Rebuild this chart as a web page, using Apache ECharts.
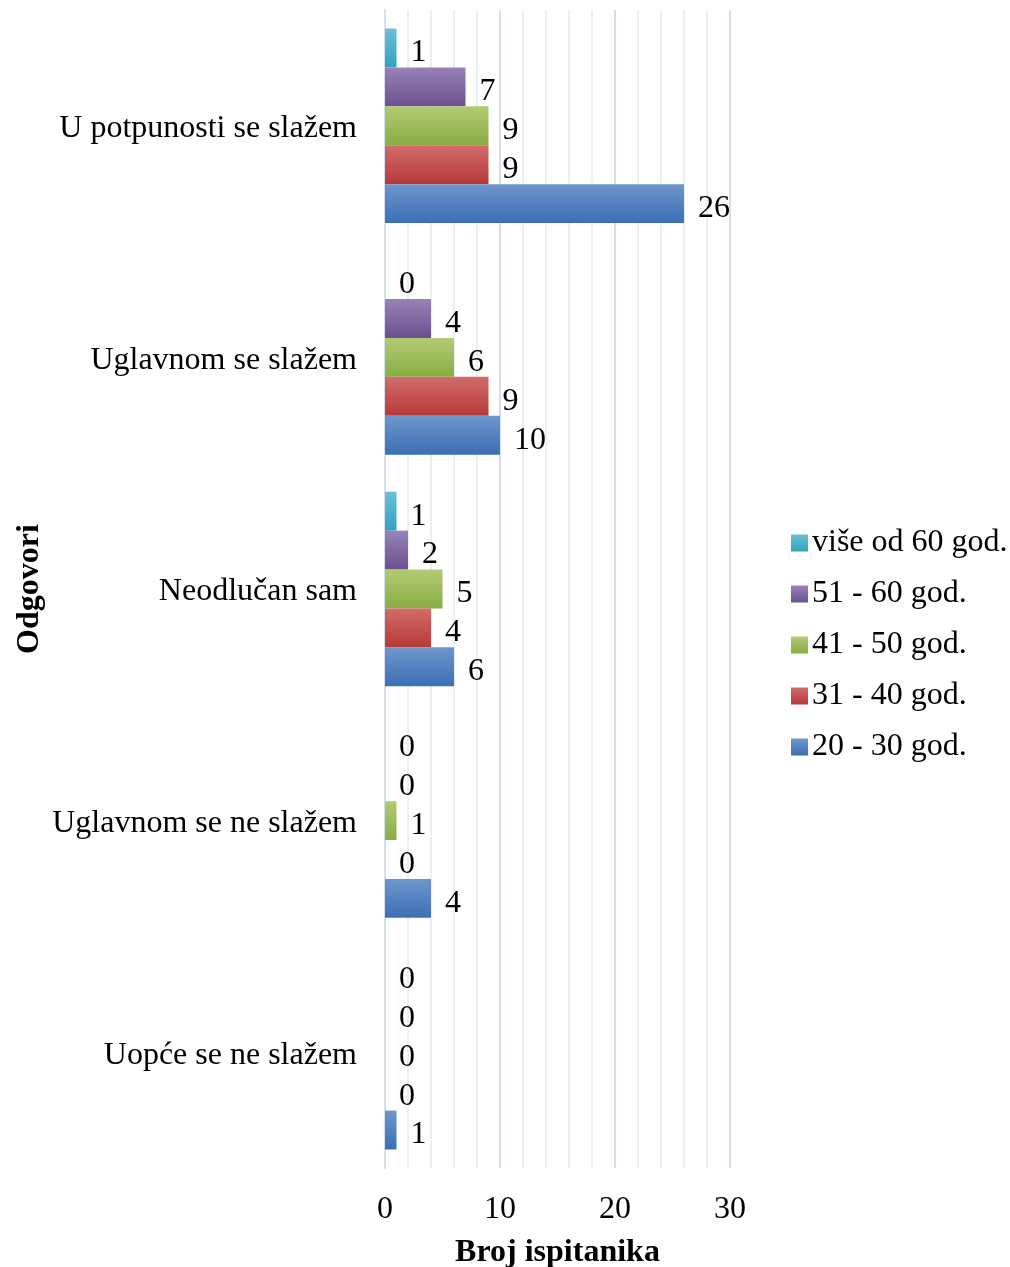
<!DOCTYPE html>
<html>
<head>
<meta charset="utf-8">
<script src="https://cdn.jsdelivr.net/npm/echarts@6/dist/echarts.min.js"></script>
<style>
html,body{margin:0;padding:0;background:#fff;}
#chart{width:1010px;height:1267px;}
</style>
</head>
<body>
<div id="chart"></div>
<script>
var categories = ['U potpunosti se slažem', 'Uglavnom se slažem', 'Neodlučan sam', 'Uglavnom se ne slažem', 'Uopće se ne slažem'];
var seriesNames = ['20 - 30 god.', '31 - 40 god.', '41 - 50 god.', '51 - 60 god.', 'više od 60 god.'];
var age20_30 = [26, 10, 6, 4, 1];
var age31_40 = [9, 9, 4, 0, 0];
var age41_50 = [9, 6, 5, 1, 0];
var age51_60 = [7, 4, 2, 0, 0];
var age60plus = [1, 0, 1, 0, 0];
var xTicks = [0, 10, 20, 30];

var values = [age20_30, age31_40, age41_50, age51_60, age60plus];
var gradients = [
  ['#6f96cc', '#3b6fb4'],
  ['#d26c6a', '#b53936'],
  ['#b3cb74', '#88ad43'],
  ['#9883b6', '#6c4f90'],
  ['#6cc0d6', '#32a0c0']
];
var FONT = '"Liberation Serif", "Times New Roman", serif';
var FS = 32;

function grad(c) {
  return new echarts.graphic.LinearGradient(0, 0, 0, 1, [
    {offset: 0, color: c[0]}, {offset: 1, color: c[1]}
  ]);
}

// Excel draws first series at bottom of each band: reverse order for ECharts
var order = [4, 3, 2, 1, 0];
var series = order.map(function (i) {
  return {
    name: seriesNames[i],
    type: 'bar',
    data: values[i],
    barGap: '0%',
    barCategoryGap: '16%',
    itemStyle: {color: grad(gradients[i])},
    label: {
      show: true,
      position: 'right',
      distance: 14,
      color: '#000',
      fontFamily: FONT,
      fontSize: FS,
      offset: [0, 5]
    },
    emphasis: {disabled: true}
  };
});

var chart = echarts.init(document.getElementById('chart'));
chart.setOption({
  animation: false,
  backgroundColor: '#fff',
  grid: {left: 385, right: 280, top: 10, bottom: 99, containLabel: false, outerBoundsMode: 'none'},
  legend: {
    orient: 'vertical',
    left: 786,
    top: 522,
    itemWidth: 17,
    itemHeight: 17,
    itemGap: 19,
    icon: 'rect',
    data: ['više od 60 god.', '51 - 60 god.', '41 - 50 god.', '31 - 40 god.', '20 - 30 god.'],
    textStyle: {fontFamily: FONT, fontSize: FS, color: '#000', padding: [4, 0, 0, -1]}
  },
  xAxis: {
    type: 'value',
    min: xTicks[0],
    max: xTicks[xTicks.length - 1],
    interval: 10,
    name: 'Broj ispitanika',
    nameLocation: 'middle',
    nameGap: 69,
    nameTextStyle: {fontFamily: FONT, fontSize: FS, fontWeight: 'bold', color: '#000'},
    axisLine: {show: false},
    axisTick: {show: false},
    axisLabel: {fontFamily: FONT, fontSize: FS, color: '#000', margin: 26},
    splitLine: {show: true, lineStyle: {color: '#d5e0ee', width: 2}},
    minorTick: {show: false, splitNumber: 5},
    minorSplitLine: {show: true, lineStyle: {color: '#e9eff7', width: 2}}
  },
  yAxis: {
    type: 'category',
    data: categories,
    inverse: true,
    name: 'Odgovori',
    nameLocation: 'middle',
    nameGap: 339,
    nameRotate: 90,
    nameTextStyle: {fontFamily: FONT, fontSize: FS, fontWeight: 'bold', color: '#000'},
    axisLine: {show: true, lineStyle: {color: '#d5e0ee', width: 2}},
    axisTick: {show: false},
    axisLabel: {fontFamily: FONT, fontSize: FS, color: '#000', margin: 28, verticalAlign: 'top', lineHeight: 6}
  },
  series: series
});
</script>
</body>
</html>
